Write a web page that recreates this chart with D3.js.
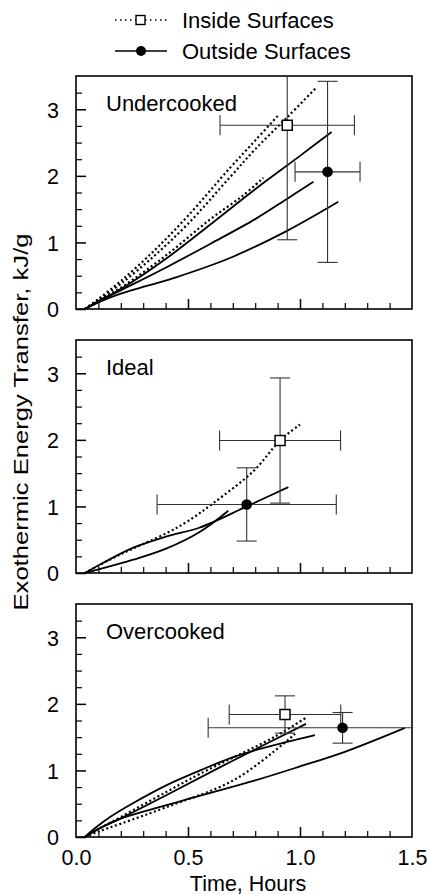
<!DOCTYPE html>
<html>
<head>
<meta charset="utf-8">
<script src="https://cdn.jsdelivr.net/npm/d3@7"></script>
<style>
  html, body { margin: 0; padding: 0; background: #fff; }
  svg { display: block; }
  text { font-family: "Liberation Sans", Arial, Helvetica, sans-serif; fill: #000; }
</style>
</head>
<body>
<svg id="chart" width="427" height="895"></svg>
<script>
// ---- data -------------------------------------------------------------
const panelNames = ["Undercooked", "Ideal", "Overcooked"];
const xTickValues = [0.0, 0.5, 1.0, 1.5];
const yTickValues = [0, 1, 2, 3];

// model curves, [time (h), energy (kJ/g)]
const underInside = [
  [[0.04,0],[0.10,0.15],[0.20,0.42],[0.35,0.88],[0.50,1.40],[0.6875,2.12],[0.80,2.53],[0.903,2.91]],
  [[0.04,0],[0.10,0.14],[0.20,0.38],[0.35,0.80],[0.50,1.28],[0.6875,1.98],[0.80,2.40],[0.943,2.88],[1.074,3.33]],
  [[0.04,0],[0.10,0.13],[0.20,0.32],[0.40,0.80],[0.60,1.35],[0.744,1.70],[0.836,1.97]]
];
const underOutside = [
  [[0.04,0],[0.10,0.12],[0.20,0.30],[0.40,0.75],[0.60,1.27],[0.80,1.80],[1.0,2.30],[1.141,2.66]],
  [[0.04,0],[0.10,0.11],[0.20,0.28],[0.40,0.62],[0.60,0.98],[0.80,1.35],[0.94,1.65],[1.06,1.91]],
  [[0.04,0],[0.10,0.10],[0.20,0.23],[0.32,0.35],[0.45,0.48],[0.69,0.77],[0.94,1.17],[1.171,1.61]]
];
const idealInside = [
  [[0.04,0],[0.15,0.20],[0.256,0.37],[0.405,0.60],[0.50,0.78],[0.613,1.05],[0.792,1.53],[0.911,1.99],[1.0,2.23]]
];
const idealOutside = [
  [[0.04,0],[0.12,0.15],[0.256,0.38],[0.405,0.55],[0.55,0.68],[0.762,1.0],[0.948,1.29]],
  [[0.04,0],[0.15,0.10],[0.256,0.20],[0.405,0.37],[0.554,0.62],[0.68,0.935]]
];
const overInside = [
  [[0.04,0],[0.10,0.12],[0.20,0.30],[0.405,0.68],[0.554,0.95],[0.884,1.50],[1.03,1.80]],
  [[0.04,0],[0.10,0.08],[0.20,0.20],[0.405,0.45],[0.702,0.85],[0.926,1.40],[0.978,1.55]]
];
const overOutside = [
  [[0.04,0],[0.08,0.12],[0.152,0.30],[0.25,0.50],[0.405,0.78],[0.554,1.00],[0.702,1.20],[0.851,1.35],[1.067,1.53]],
  [[0.04,0],[0.10,0.12],[0.20,0.28],[0.405,0.63],[0.702,1.15],[1.027,1.70]],
  [[0.04,0],[0.10,0.12],[0.18,0.25],[0.30,0.38],[0.554,0.62],[0.80,0.85],[1.0,1.06],[1.20,1.28],[1.469,1.64]]
];

// measured means with error half-widths, one per panel
const insideTime      = [0.943, 0.911, 0.933];
const insideEnergy    = [2.76, 1.99, 1.84];
const insideTimeErr   = [0.30, 0.27, 0.249];
const insideEnergyErr = [1.72, 0.94, 0.28];
const outsideTime      = [1.123, 0.762, 1.19];
const outsideEnergy    = [2.06, 1.03, 1.64];
const outsideTimeErr   = [0.145, 0.40, 0.60];
const outsideEnergyErr = [1.36, 0.55, 0.23];

const legendLabels = ["Inside Surfaces", "Outside Surfaces"];
const xTitle = "Time, Hours";
const yTitle = "Exothermic Energy Transfer, kJ/g";

// ---- layout -----------------------------------------------------------
const svg = d3.select("#chart");
const left = 76, right = 412;
const panelTops = [76, 340, 604];
const panelH = 233;
const fontSize = 21.5;

const x = d3.scaleLinear().domain([0, 1.5]).range([left, right]);

const insideCurves = [underInside, idealInside, overInside];
const outsideCurves = [underOutside, idealOutside, overOutside];

const dotted = "2,2.6";

panelNames.forEach((name, i) => {
  const top = panelTops[i];
  const y = d3.scaleLinear().domain([0, 3.5]).range([top + panelH, top]);
  const g = svg.append("g");

  const clipId = "clip" + i;
  svg.append("clipPath").attr("id", clipId)
    .append("rect").attr("x", left).attr("y", top).attr("width", right - left).attr("height", panelH);

  // inward ticks along the bottom and left
  const xMinor = d3.range(1, 15).map(k => k / 10).filter(v => Math.abs(v * 2 - Math.round(v * 2)) > 1e-6);
  g.append("g").attr("transform", `translate(0,${top + panelH})`)
    .call(d3.axisBottom(x).tickValues(xMinor).tickSize(-6).tickFormat(""))
    .call(a => a.select(".domain").remove())
    .call(a => a.selectAll("line").attr("stroke-width", 1.2));
  g.append("g").attr("transform", `translate(0,${top + panelH})`)
    .call(d3.axisBottom(x).tickValues([0.5, 1.0]).tickSize(-10).tickFormat(""))
    .call(a => a.select(".domain").remove())
    .call(a => a.selectAll("line").attr("stroke-width", 1.5));

  const yMinor = d3.range(1, 14).map(k => k / 4).filter(v => v % 1 !== 0);
  g.append("g").attr("transform", `translate(${left},0)`)
    .call(d3.axisLeft(y).tickValues(yMinor).tickSize(-6).tickFormat(""))
    .call(a => a.select(".domain").remove())
    .call(a => a.selectAll("line").attr("stroke-width", 1.2));
  const yAxis = g.append("g").attr("transform", `translate(${left},0)`)
    .call(d3.axisLeft(y).tickValues(yTickValues).tickSize(-10).tickPadding(17).tickFormat(d3.format("d")));
  yAxis.select(".domain").remove();
  yAxis.selectAll("line").attr("stroke-width", 1.5);
  yAxis.selectAll("text").attr("font-size", fontSize).attr("fill", "#000")
    .style("font-family", '"Liberation Sans", Arial, sans-serif').attr("dy", "0.36em");

  if (i === panelNames.length - 1) {
    const xAxis = g.append("g").attr("transform", `translate(0,${top + panelH})`)
      .call(d3.axisBottom(x).tickValues(xTickValues).tickSize(0).tickPadding(13).tickFormat(d3.format(".1f")));
    xAxis.select(".domain").remove();
    xAxis.selectAll("text").attr("font-size", fontSize).attr("fill", "#000")
      .style("font-family", '"Liberation Sans", Arial, sans-serif');
  }

  // frame
  g.append("rect").attr("x", left).attr("y", top).attr("width", right - left).attr("height", panelH)
    .attr("fill", "none").attr("stroke", "#000").attr("stroke-width", 1.6);

  // panel title
  g.append("text").attr("x", left + 30).attr("y", top + 35)
    .attr("font-size", 22).attr("fill", "#000").text(name);

  const line = d3.line().x(d => x(d[0])).y(d => y(d[1])).curve(d3.curveCatmullRom.alpha(0.5));
  const plot = g.append("g").attr("clip-path", `url(#${clipId})`);

  plot.selectAll("path.outside").data(outsideCurves[i]).join("path")
    .attr("class", "outside").attr("d", line)
    .attr("fill", "none").attr("stroke", "#000").attr("stroke-width", 1.8);
  plot.selectAll("path.inside").data(insideCurves[i]).join("path")
    .attr("class", "inside").attr("d", line)
    .attr("fill", "none").attr("stroke", "#000").attr("stroke-width", 2.2)
    .attr("stroke-dasharray", dotted);

  // error bars with end caps
  const cap = 10;
  const drawErr = (t, e, dt, de) => {
    const eb = plot.append("g").attr("stroke", "#333").attr("stroke-width", 1.1);
    eb.append("line").attr("x1", x(t - dt)).attr("x2", x(t + dt)).attr("y1", y(e)).attr("y2", y(e));
    eb.append("line").attr("x1", x(t)).attr("x2", x(t)).attr("y1", y(e - de)).attr("y2", y(e + de));
    [t - dt, t + dt].forEach(v => eb.append("line")
      .attr("x1", x(v)).attr("x2", x(v)).attr("y1", y(e) - cap).attr("y2", y(e) + cap));
    [e - de, e + de].forEach(v => eb.append("line")
      .attr("x1", x(t) - cap).attr("x2", x(t) + cap).attr("y1", y(v)).attr("y2", y(v)));
  };
  drawErr(insideTime[i], insideEnergy[i], insideTimeErr[i], insideEnergyErr[i]);
  drawErr(outsideTime[i], outsideEnergy[i], outsideTimeErr[i], outsideEnergyErr[i]);

  plot.append("rect")
    .attr("x", x(insideTime[i]) - 5).attr("y", y(insideEnergy[i]) - 5)
    .attr("width", 10).attr("height", 10)
    .attr("fill", "#fff").attr("stroke", "#000").attr("stroke-width", 1.5);
  plot.append("circle")
    .attr("cx", x(outsideTime[i])).attr("cy", y(outsideEnergy[i])).attr("r", 5.3)
    .attr("fill", "#000");
});

// axis titles
svg.append("text")
  .attr("x", (left + right) / 2 + 4).attr("y", 891)
  .attr("text-anchor", "middle").attr("font-size", fontSize).attr("fill", "#000")
  .text(xTitle);

svg.append("text")
  .attr("transform", "translate(28,422) rotate(-90) scale(1.28,1)")
  .attr("text-anchor", "middle").attr("font-size", 20).attr("fill", "#000")
  .text(yTitle);

// legend
const legend = svg.append("g");
const legendY = [20, 51];
legend.append("line").attr("x1", 115).attr("x2", 167).attr("y1", legendY[0]).attr("y2", legendY[0])
  .attr("stroke", "#000").attr("stroke-width", 1.5).attr("stroke-dasharray", "1.5,3.5");
legend.append("rect").attr("x", 136).attr("y", legendY[0] - 4.5).attr("width", 9).attr("height", 9)
  .attr("fill", "#fff").attr("stroke", "#000").attr("stroke-width", 1.4);
legend.append("line").attr("x1", 115).attr("x2", 167).attr("y1", legendY[1]).attr("y2", legendY[1])
  .attr("stroke", "#000").attr("stroke-width", 1.6);
legend.append("circle").attr("cx", 141).attr("cy", legendY[1]).attr("r", 5).attr("fill", "#000");
legendLabels.forEach((lab, k) => {
  legend.append("text").attr("x", 182).attr("y", legendY[k] + 8)
    .attr("font-size", 22).attr("fill", "#000").text(lab);
});
</script>
</body>
</html>
